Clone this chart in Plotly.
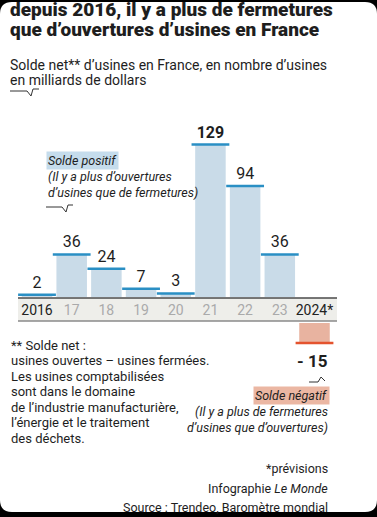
import plotly.graph_objects as go

# ---- data ----
years = ["2016", "17", "18", "19", "20", "21", "22", "23", "2024*"]
values = [2, 36, 24, 7, 3, 129, 94, 36, -15]
value_labels = ["2", "36", "24", "7", "3", "<b>129</b>", "94", "36", "<b>- 15</b>"]
tick_colors = ["#222222", "#aaaaaa", "#aaaaaa", "#aaaaaa", "#aaaaaa", "#aaaaaa", "#aaaaaa", "#aaaaaa", "#222222"]

W, H = 377, 517
def px(x):
    return x / W
def py(y):
    return 1 - y / H

pos_x = [c for c, v in zip(years, values) if v >= 0]
pos_y = [v for v in values if v >= 0]
pos_t = [t for t, v in zip(value_labels, values) if v >= 0]
neg_x = [c for c, v in zip(years, values) if v < 0]
neg_y = [v for v in values if v < 0]
neg_t = [t for t, v in zip(value_labels, values) if v < 0]

BODY = "Roboto, Lato, 'Noto Sans', sans-serif"
ITAL = "Roboto, sans-serif"
TXT = "#1e1e1e"

fig = go.Figure()
fig.add_trace(go.Bar(
    x=pos_x, y=pos_y, xaxis="x", yaxis="y", width=0.88,
    marker=dict(color="#c9dbe8", line=dict(width=0)),
    text=pos_t, textposition="outside", cliponaxis=False,
    textfont=dict(family=BODY, size=16, color=TXT), hoverinfo="skip"))
fig.add_trace(go.Scatter(
    x=pos_x, y=pos_y, xaxis="x", yaxis="y", mode="markers",
    marker=dict(symbol="line-ew", size=27, line=dict(width=2.5, color="#2a8fc4")),
    hoverinfo="skip", cliponaxis=False))
fig.add_trace(go.Bar(
    x=neg_x, y=neg_y, xaxis="x", yaxis="y2", width=0.88,
    marker=dict(color="#e8b3a0", line=dict(width=0)),
    hoverinfo="skip"))
fig.add_trace(go.Scatter(
    x=neg_x, y=neg_y, xaxis="x", yaxis="y2", mode="markers",
    marker=dict(symbol="line-ew", size=27, line=dict(width=2.5, color="#e4532e")),
    hoverinfo="skip", cliponaxis=False))

# rounded white card on black
r = 12
card = (f"M {px(0)},{py(2+r)} Q {px(0)},{py(2)} {px(r)},{py(2)} "
        f"L {px(W-r)},{py(2)} Q {px(W)},{py(2)} {px(W)},{py(2+r)} "
        f"L {px(W)},{py(512-r)} Q {px(W)},{py(512)} {px(W-r)},{py(512)} "
        f"L {px(r)},{py(512)} Q {px(0)},{py(512)} {px(0)},{py(512-r)} Z")
shapes = [
    dict(type="path", path=card, xref="paper", yref="paper", fillcolor="white",
         line=dict(width=0), layer="below"),
    dict(type="rect", xref="paper", yref="paper", x0=px(18), x1=px(337), y0=py(298), y1=py(321),
         fillcolor="#eeeeea", line=dict(width=0), layer="below"),
    dict(type="line", xref="paper", yref="paper", x0=px(18), x1=px(337), y0=py(298), y1=py(298),
         line=dict(color="#4a4a4a", width=1.5)),
    dict(type="line", xref="paper", yref="paper", x0=px(18), x1=px(337), y0=py(321), y1=py(321),
         line=dict(color="#8a8a8a", width=1.5)),
]
def squiggle(pts):
    d = "M " + " L ".join(f"{px(a)},{py(b)}" for a, b in pts)
    return dict(type="path", path=d, xref="paper", yref="paper",
                line=dict(color="#333", width=1))
shapes.append(squiggle([(10, 91), (27, 91), (31, 96), (33, 89), (39, 89)]))
shapes.append(squiggle([(46, 207), (62, 207), (66, 212), (68, 205), (73, 205)]))
shapes.append(squiggle([(309, 382), (318, 382), (321, 377), (325, 381)]))

anns = []
def ann(text, x, y, size=14, anchor="left", color=TXT, family=BODY, bg=None, weight=None, style=None):
    f = dict(family=family, size=size, color=color)
    if weight:
        f["weight"] = weight
    if style:
        f["style"] = style
    d = dict(text=text, x=px(x), y=py(y), xref="paper", yref="paper", showarrow=False,
             xanchor=anchor, yanchor="middle", font=f, align=anchor)
    if bg:
        d["bgcolor"] = bg
        d["borderpad"] = 1
    anns.append(d)

ann("depuis 2016, il y a plus de fermetures", 8, 10, size=19, weight=900)
ann("que d’ouvertures d’usines en France", 8, 30, size=19, weight=900)
ann("Solde net** d’usines en France, en nombre d’usines", 8, 65, size=14)
ann("en milliards de dollars", 8, 80, size=14)

ann("Solde positif", 46, 160, size=12.5, bg="#c5dcec", style="italic", family=ITAL)
ann("(Il y a plus d’ouvertures", 46, 176, size=12.5, style="italic", family=ITAL)
ann("d’usines que de fermetures)", 46, 192, size=12.5, style="italic", family=ITAL)

ann("Solde négatif", 330, 395, size=12.5, anchor="right", bg="#ebb7a3", style="italic", family=ITAL)
ann("(Il y a plus de fermetures", 330, 411, size=12.5, anchor="right", style="italic", family=ITAL)
ann("d’usines que d’ouvertures)", 330, 427, size=12.5, anchor="right", style="italic", family=ITAL)

foot = ["** Solde net :", "usines ouvertes – usines fermées.", "Les usines comptabilisées",
        "sont dans le domaine", "de l’industrie manufacturière,", "l’énergie et le traitement",
        "des déchets."]
for i, t in enumerate(foot):
    ann(t, 9, 345 + i * 15.5, size=13)

ann("*prévisions", 330, 468, size=12.5, anchor="right")
ann("Infographie <i>Le Monde</i>", 330, 488, size=12.5, anchor="right")
ann("Source : Trendeo, Baromètre mondial", 330, 507, size=12.5, anchor="right")

# value label of the negative bar, pinned to the data coordinates
for xv, yv, tv in zip(neg_x, neg_y, neg_t):
    anns.append(dict(text=tv, x=xv, y=yv, xref="x", yref="y2", showarrow=False,
                     xanchor="right", yanchor="top", xshift=15.5, yshift=-6,
                     font=dict(family=BODY, size=17, color=TXT)))

ticktext = [f"<span style='color:{c}'>{t}</span>" for t, c in zip(years, tick_colors)]

fig.update_layout(
    width=W, height=H, autosize=False,
    margin=dict(l=0, r=0, t=0, b=0),
    paper_bgcolor="black", plot_bgcolor="rgba(0,0,0,0)",
    showlegend=False, barmode="overlay",
    shapes=shapes, annotations=anns,
    font=dict(family=BODY, color=TXT),
    xaxis=dict(domain=[px(19.66), px(331.84)], type="category", categoryorder="array",
               categoryarray=years, range=[-0.5, 8.5], anchor="y",
               tickvals=years, ticktext=ticktext, ticks="", showline=False,
               showgrid=False, zeroline=False, tickfont=dict(family=BODY, size=14),
               ticklabelstandoff=3, fixedrange=True),
    yaxis=dict(domain=[py(297), py(100)], range=[0, 166.7], visible=False, fixedrange=True),
    yaxis2=dict(domain=[py(350), py(323)], range=[-20.25, 0], visible=False,
                anchor="x", fixedrange=True),
)

fig.write_html("out.html", config={"displayModeBar": False, "staticPlot": True},
               post_script="document.body.style.margin='0';document.body.style.overflow='hidden';")
